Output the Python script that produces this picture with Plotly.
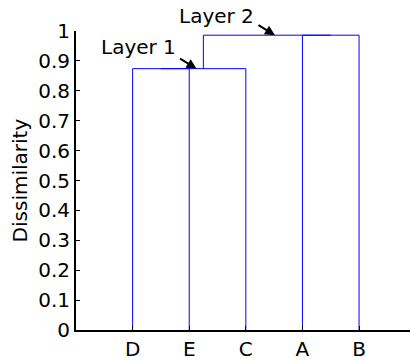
import plotly.graph_objects as go

leaves = ["D", "E", "C", "A", "B"]
# merges: (left node, right node, height); nodes 0..4 are leaves, new nodes appended
merges = [(0, 1, 0.874), (5, 2, 0.874), (3, 4, 0.986), (6, 7, 0.986)]
ytick_vals = [0, 0.1, 0.2, 0.3, 0.4, 0.5, 0.6, 0.7, 0.8, 0.9, 1]
ytick_text = ["0", "0.1", "0.2", "0.3", "0.4", "0.5", "0.6", "0.7", "0.8", "0.9", "1"]
labels = ["Layer 1", "Layer 2"]
label_heights = [0.874, 0.986]

pos = [float(i + 1) for i in range(len(leaves))]
hgt = [0.0] * len(leaves)
xs, ys = [], []
for a, b, h in merges:
    xa, xb = pos[a], pos[b]
    xs += [xa, xa, xb, xb, None]
    ys += [hgt[a], h, h, hgt[b], None]
    pos.append((xa + xb) / 2)
    hgt.append(h)

fig = go.Figure()
fig.add_trace(go.Scatter(x=xs, y=ys, mode="lines",
                         line=dict(color="#0000ff", width=1),
                         hoverinfo="skip", showlegend=False))

font = dict(family="DejaVu Sans, sans-serif", size=20, color="black")

# arrows (tips near the merge nodes)
tips = [(pos[6] - 0.12, label_heights[0]), (pos[8] + 0.14, label_heights[1])]
# text centres in paper coordinates
texts = [(0.186, 0.946), (0.422, 1.05)]
for (tx, ty), (lx, ly), lab in zip(tips, texts, labels):
    fig.add_annotation(x=tx, y=ty, xref="x", yref="y", text="", showarrow=True,
                       arrowhead=2, arrowsize=1, arrowwidth=2, arrowcolor="black",
                       ax=-18, ay=-11)
    fig.add_annotation(x=lx, y=ly, xref="paper", yref="paper", text=lab,
                       showarrow=False, font=font, xanchor="center", yanchor="middle")

fig.add_annotation(x=-0.168, y=0.5, xref="paper", yref="paper", text="Dissimilarity",
                   textangle=-90, showarrow=False, font=font,
                   xanchor="center", yanchor="middle")

fig.update_layout(
    width=410, height=361,
    margin=dict(l=76, r=0, t=31, b=31),
    paper_bgcolor="white", plot_bgcolor="white",
    font=font,
    xaxis=dict(range=[0, 5.9], tickvals=[1, 2, 3, 4, 5], ticktext=leaves,
               showline=True, linecolor="black", linewidth=2, mirror=False,
               ticks="inside", ticklen=4, tickcolor="black", tickwidth=1,
               showgrid=False, zeroline=False, fixedrange=True),
    yaxis=dict(range=[0, 1], tickvals=ytick_vals, ticktext=ytick_text,
               showline=True, linecolor="black", linewidth=2,
               ticks="inside", ticklen=4, tickcolor="black", tickwidth=1,
               showgrid=False, zeroline=False, fixedrange=True),
)

fig.write_html("out.html")
